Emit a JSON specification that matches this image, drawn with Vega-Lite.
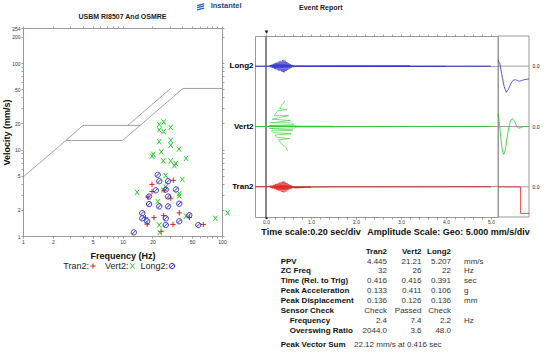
{
  "$schema": "https://vega.github.io/schema/vega-lite/v6.json",
  "padding": {"left": 2, "top": 1, "right": 0, "bottom": 0},
  "title": {"text": "Instantel", "anchor": "start", "frame": "bounds", "dx": 208, "offset": -8, "fontSize": 7.5, "fontWeight": "bold", "color": "#1d3f8f"},
  "config": {
    "font": "Liberation Sans",
    "view": {"stroke": "#999"},
    "axis": {"labelFontSize": 5, "labelColor": "#333", "tickColor": "#888", "domainColor": "#999", "tickWidth": 0.8, "domainWidth": 1, "labelOverlap": false, "labelFlush": false, "grid": false},
    "title": {"color": "#222"}
  },
  "datasets": {
    "limits": [
      {"seg": "A", "f": 1, "v": 4.8}, {"seg": "A", "f": 2.7, "v": 12.7}, {"seg": "A", "f": 10, "v": 12.7}, {"seg": "A", "f": 40.5, "v": 50.8}, {"seg": "A", "f": 100, "v": 50.8},
      {"seg": "B", "f": 2.7, "v": 12.7}, {"seg": "B", "f": 4, "v": 19}, {"seg": "B", "f": 15, "v": 19},
      {"seg": "C", "f": 11.3, "v": 19}, {"seg": "C", "f": 30.5, "v": 50.8}
    ],
    "pts": [
      {"s": "Tran2", "f": 19.8, "v": 3.95}, {"s": "Tran2", "f": 32.4, "v": 4.4}, {"s": "Tran2", "f": 19.8, "v": 3.27}, {"s": "Tran2", "f": 18.0, "v": 2.82}, {"s": "Tran2", "f": 30.5, "v": 2.74},
      {"s": "Tran2", "f": 37.2, "v": 1.85}, {"s": "Tran2", "f": 25.9, "v": 1.72}, {"s": "Tran2", "f": 20.7, "v": 1.63}, {"s": "Tran2", "f": 17.0, "v": 1.63}, {"s": "Tran2", "f": 17.7, "v": 1.37},
      {"s": "Tran2", "f": 32.2, "v": 1.36}, {"s": "Tran2", "f": 47.1, "v": 1.64}, {"s": "Tran2", "f": 64.9, "v": 1.36}, {"s": "Tran2", "f": 24.4, "v": 1.13}, {"s": "Tran2", "f": 26.2, "v": 3.37},
      {"s": "Vert2", "f": 23.4, "v": 19.5}, {"s": "Vert2", "f": 25.9, "v": 20.8}, {"s": "Vert2", "f": 23.4, "v": 16.8}, {"s": "Vert2", "f": 25.9, "v": 16.1}, {"s": "Vert2", "f": 30.5, "v": 18.0},
      {"s": "Vert2", "f": 23.4, "v": 12.3}, {"s": "Vert2", "f": 30.5, "v": 12.8}, {"s": "Vert2", "f": 30.5, "v": 11.2}, {"s": "Vert2", "f": 24.5, "v": 9.4}, {"s": "Vert2", "f": 37, "v": 10.1},
      {"s": "Vert2", "f": 20.4, "v": 8.8}, {"s": "Vert2", "f": 19.8, "v": 8.4}, {"s": "Vert2", "f": 25.7, "v": 7.4}, {"s": "Vert2", "f": 30.5, "v": 7.4}, {"s": "Vert2", "f": 34.3, "v": 6.9},
      {"s": "Vert2", "f": 33.2, "v": 6.5}, {"s": "Vert2", "f": 43.5, "v": 7.9}, {"s": "Vert2", "f": 27.2, "v": 5.0}, {"s": "Vert2", "f": 39.9, "v": 4.5}, {"s": "Vert2", "f": 27.2, "v": 3.7},
      {"s": "Vert2", "f": 25.7, "v": 3.4}, {"s": "Vert2", "f": 14.0, "v": 3.2}, {"s": "Vert2", "f": 37.2, "v": 3.1}, {"s": "Vert2", "f": 37.2, "v": 2.9}, {"s": "Vert2", "f": 22.6, "v": 2.5},
      {"s": "Vert2", "f": 43.5, "v": 1.7}, {"s": "Vert2", "f": 85.7, "v": 1.6}, {"s": "Vert2", "f": 23.4, "v": 1.34}, {"s": "Vert2", "f": 23.7, "v": 1.1}, {"s": "Vert2", "f": 114, "v": 1.85},
      {"s": "Long2", "f": 22.6, "v": 5.1}, {"s": "Long2", "f": 23.4, "v": 4.3}, {"s": "Long2", "f": 28.7, "v": 4.3}, {"s": "Long2", "f": 21.6, "v": 3.37}, {"s": "Long2", "f": 27.2, "v": 3.45},
      {"s": "Long2", "f": 34.5, "v": 3.45}, {"s": "Long2", "f": 18.5, "v": 2.86}, {"s": "Long2", "f": 28.7, "v": 2.86}, {"s": "Long2", "f": 37.2, "v": 2.36}, {"s": "Long2", "f": 18.5, "v": 2.34},
      {"s": "Long2", "f": 23.4, "v": 2.2}, {"s": "Long2", "f": 28.7, "v": 2.2}, {"s": "Long2", "f": 15.8, "v": 1.84}, {"s": "Long2", "f": 15.8, "v": 1.6}, {"s": "Long2", "f": 27.2, "v": 1.6},
      {"s": "Long2", "f": 17.7, "v": 1.48}, {"s": "Long2", "f": 37.2, "v": 1.48}, {"s": "Long2", "f": 46.9, "v": 1.74}, {"s": "Long2", "f": 27.2, "v": 1.34}, {"s": "Long2", "f": 57.8, "v": 1.34},
      {"s": "Long2", "f": 13.0, "v": 1.1}
    ],
    "leg": [
      {"s": "Tran2", "label": "Tran2:"}, {"s": "Vert2", "label": "Vert2:"}, {"s": "Long2", "label": "Long2:"}
    ],
    "wave": [
      {"ch": "Long2", "t": -0.244, "v": 0}, {"ch": "Long2", "t": 0.06, "v": 0}, {"ch": "Long2", "t": 0.08, "v": 0.5}, {"ch": "Long2", "t": 0.10, "v": -0.6}, {"ch": "Long2", "t": 0.12, "v": 1.0},
      {"ch": "Long2", "t": 0.14, "v": -1.2}, {"ch": "Long2", "t": 0.16, "v": 1.6}, {"ch": "Long2", "t": 0.18, "v": -1.9}, {"ch": "Long2", "t": 0.20, "v": 2.2}, {"ch": "Long2", "t": 0.22, "v": -2.5},
      {"ch": "Long2", "t": 0.24, "v": 2.8}, {"ch": "Long2", "t": 0.26, "v": -3.0}, {"ch": "Long2", "t": 0.28, "v": 3.4}, {"ch": "Long2", "t": 0.30, "v": -3.6}, {"ch": "Long2", "t": 0.32, "v": 4.0},
      {"ch": "Long2", "t": 0.34, "v": -4.2}, {"ch": "Long2", "t": 0.36, "v": 4.6}, {"ch": "Long2", "t": 0.38, "v": -4.9}, {"ch": "Long2", "t": 0.40, "v": 5.2}, {"ch": "Long2", "t": 0.42, "v": -4.6},
      {"ch": "Long2", "t": 0.44, "v": 4.1}, {"ch": "Long2", "t": 0.46, "v": -3.6}, {"ch": "Long2", "t": 0.48, "v": 3.0}, {"ch": "Long2", "t": 0.50, "v": -2.6}, {"ch": "Long2", "t": 0.52, "v": 2.0},
      {"ch": "Long2", "t": 0.54, "v": -1.6}, {"ch": "Long2", "t": 0.56, "v": 1.1}, {"ch": "Long2", "t": 0.58, "v": -0.9}, {"ch": "Long2", "t": 0.60, "v": 0.6}, {"ch": "Long2", "t": 0.62, "v": -0.5},
      {"ch": "Long2", "t": 0.64, "v": 0.3}, {"ch": "Long2", "t": 0.66, "v": -0.3}, {"ch": "Long2", "t": 0.70, "v": 0}, {"ch": "Long2", "t": 1.2, "v": -0.2}, {"ch": "Long2", "t": 1.8, "v": 0.2},
      {"ch": "Long2", "t": 2.5, "v": -0.2}, {"ch": "Long2", "t": 3.2, "v": 0.2}, {"ch": "Long2", "t": 4.0, "v": -0.2}, {"ch": "Long2", "t": 5.0, "v": 0},
      {"ch": "Vert2", "t": -0.244, "v": 0}, {"ch": "Vert2", "t": 0.04, "v": 0}, {"ch": "Vert2", "t": 0.06, "v": 0.8}, {"ch": "Vert2", "t": 0.08, "v": -1.5}, {"ch": "Vert2", "t": 0.10, "v": 3},
      {"ch": "Vert2", "t": 0.12, "v": -3.5}, {"ch": "Vert2", "t": 0.14, "v": 6}, {"ch": "Vert2", "t": 0.16, "v": -5}, {"ch": "Vert2", "t": 0.18, "v": 9}, {"ch": "Vert2", "t": 0.20, "v": -7},
      {"ch": "Vert2", "t": 0.22, "v": 11}, {"ch": "Vert2", "t": 0.24, "v": -9}, {"ch": "Vert2", "t": 0.26, "v": 13}, {"ch": "Vert2", "t": 0.28, "v": -11}, {"ch": "Vert2", "t": 0.30, "v": 15},
      {"ch": "Vert2", "t": 0.32, "v": -13}, {"ch": "Vert2", "t": 0.34, "v": 17}, {"ch": "Vert2", "t": 0.36, "v": -15}, {"ch": "Vert2", "t": 0.38, "v": 19}, {"ch": "Vert2", "t": 0.40, "v": -16},
      {"ch": "Vert2", "t": 0.42, "v": 21.2}, {"ch": "Vert2", "t": 0.44, "v": -17}, {"ch": "Vert2", "t": 0.46, "v": 14}, {"ch": "Vert2", "t": 0.48, "v": -20}, {"ch": "Vert2", "t": 0.50, "v": 9},
      {"ch": "Vert2", "t": 0.52, "v": -10}, {"ch": "Vert2", "t": 0.54, "v": 5}, {"ch": "Vert2", "t": 0.56, "v": -6}, {"ch": "Vert2", "t": 0.58, "v": 3}, {"ch": "Vert2", "t": 0.60, "v": -3},
      {"ch": "Vert2", "t": 0.62, "v": 1.5}, {"ch": "Vert2", "t": 0.64, "v": -1.2}, {"ch": "Vert2", "t": 0.66, "v": 0.6}, {"ch": "Vert2", "t": 0.68, "v": -0.5}, {"ch": "Vert2", "t": 0.70, "v": 0.3},
      {"ch": "Vert2", "t": 0.74, "v": 0}, {"ch": "Vert2", "t": 1.5, "v": 0.1}, {"ch": "Vert2", "t": 3.0, "v": -0.1}, {"ch": "Vert2", "t": 5.0, "v": 0},
      {"ch": "Tran2", "t": -0.244, "v": 0}, {"ch": "Tran2", "t": 0.06, "v": 0}, {"ch": "Tran2", "t": 0.08, "v": 0.4}, {"ch": "Tran2", "t": 0.10, "v": -0.5}, {"ch": "Tran2", "t": 0.12, "v": 0.8},
      {"ch": "Tran2", "t": 0.14, "v": -1.0}, {"ch": "Tran2", "t": 0.16, "v": 1.3}, {"ch": "Tran2", "t": 0.18, "v": -1.5}, {"ch": "Tran2", "t": 0.20, "v": 1.8}, {"ch": "Tran2", "t": 0.22, "v": -2.0},
      {"ch": "Tran2", "t": 0.24, "v": 2.4}, {"ch": "Tran2", "t": 0.26, "v": -2.6}, {"ch": "Tran2", "t": 0.28, "v": 3.0}, {"ch": "Tran2", "t": 0.30, "v": -3.2}, {"ch": "Tran2", "t": 0.32, "v": 3.6},
      {"ch": "Tran2", "t": 0.34, "v": -3.8}, {"ch": "Tran2", "t": 0.36, "v": 4.0}, {"ch": "Tran2", "t": 0.38, "v": -4.2}, {"ch": "Tran2", "t": 0.40, "v": 4.3}, {"ch": "Tran2", "t": 0.42, "v": -4.4},
      {"ch": "Tran2", "t": 0.44, "v": 3.8}, {"ch": "Tran2", "t": 0.46, "v": -3.5}, {"ch": "Tran2", "t": 0.48, "v": 2.8}, {"ch": "Tran2", "t": 0.50, "v": -2.4}, {"ch": "Tran2", "t": 0.52, "v": 1.8},
      {"ch": "Tran2", "t": 0.54, "v": -1.6}, {"ch": "Tran2", "t": 0.56, "v": 1.0}, {"ch": "Tran2", "t": 0.58, "v": -1.0}, {"ch": "Tran2", "t": 0.60, "v": 0.4}, {"ch": "Tran2", "t": 0.62, "v": -0.7},
      {"ch": "Tran2", "t": 0.66, "v": -0.4}, {"ch": "Tran2", "t": 0.75, "v": -0.7}, {"ch": "Tran2", "t": 0.85, "v": -0.6}, {"ch": "Tran2", "t": 1.0, "v": -0.4}, {"ch": "Tran2", "t": 1.2, "v": -0.3},
      {"ch": "Tran2", "t": 1.6, "v": -0.1}, {"ch": "Tran2", "t": 2.2, "v": 0}, {"ch": "Tran2", "t": 5.0, "v": 0}
    ],
    "cal": [
      {"ch": "Long2", "i": 0, "c": 0, "v": 5.3}, {"ch": "Long2", "i": 1, "c": 0.06, "v": 2}, {"ch": "Long2", "i": 2, "c": 0.13, "v": -8}, {"ch": "Long2", "i": 3, "c": 0.2, "v": -17},
      {"ch": "Long2", "i": 4, "c": 0.27, "v": -21.7}, {"ch": "Long2", "i": 5, "c": 0.34, "v": -19}, {"ch": "Long2", "i": 6, "c": 0.42, "v": -14}, {"ch": "Long2", "i": 7, "c": 0.5, "v": -11.5},
      {"ch": "Long2", "i": 8, "c": 0.56, "v": -11.2}, {"ch": "Long2", "i": 9, "c": 0.63, "v": -12}, {"ch": "Long2", "i": 10, "c": 0.7, "v": -12.5}, {"ch": "Long2", "i": 11, "c": 0.8, "v": -11.5},
      {"ch": "Long2", "i": 12, "c": 0.9, "v": -11}, {"ch": "Long2", "i": 13, "c": 1, "v": -10.5},
      {"ch": "Vert2", "i": 0, "c": 0, "v": 10.3}, {"ch": "Vert2", "i": 1, "c": 0.05, "v": 2}, {"ch": "Vert2", "i": 2, "c": 0.1, "v": -12}, {"ch": "Vert2", "i": 3, "c": 0.15, "v": -21},
      {"ch": "Vert2", "i": 4, "c": 0.19, "v": -23}, {"ch": "Vert2", "i": 5, "c": 0.24, "v": -19}, {"ch": "Vert2", "i": 6, "c": 0.3, "v": -8}, {"ch": "Vert2", "i": 7, "c": 0.37, "v": 2},
      {"ch": "Vert2", "i": 8, "c": 0.43, "v": 6}, {"ch": "Vert2", "i": 9, "c": 0.48, "v": 6.5}, {"ch": "Vert2", "i": 10, "c": 0.54, "v": 4}, {"ch": "Vert2", "i": 11, "c": 0.6, "v": 0.5},
      {"ch": "Vert2", "i": 12, "c": 0.66, "v": -1.4}, {"ch": "Vert2", "i": 13, "c": 0.74, "v": -1}, {"ch": "Vert2", "i": 14, "c": 0.82, "v": 0}, {"ch": "Vert2", "i": 15, "c": 1, "v": 0},
      {"ch": "Tran2", "i": 0, "c": 0, "v": 0}, {"ch": "Tran2", "i": 1, "c": 0.73, "v": 0}, {"ch": "Tran2", "i": 2, "c": 0.73, "v": -22}, {"ch": "Tran2", "i": 3, "c": 1, "v": -22}
    ],
    "tbl": [
      {"r": -2, "c": 0, "t": "Time scale:0.20 sec/div"}, {"r": -2, "c": 4, "t": "Amplitude Scale: Geo: 5.000 mm/s/div"},
      {"r": 0, "c": 5, "t": "Tran2"}, {"r": 0, "c": 6, "t": "Vert2"}, {"r": 0, "c": 7, "t": "Long2"},
      {"r": 1, "c": 1, "t": "PPV"}, {"r": 1, "c": 5, "t": "4.445"}, {"r": 1, "c": 6, "t": "21.21"}, {"r": 1, "c": 7, "t": "5.207"}, {"r": 1, "c": 8, "t": "mm/s"},
      {"r": 2, "c": 1, "t": "ZC Freq"}, {"r": 2, "c": 5, "t": "32"}, {"r": 2, "c": 6, "t": "26"}, {"r": 2, "c": 7, "t": "22"}, {"r": 2, "c": 8, "t": "Hz"},
      {"r": 3, "c": 1, "t": "Time (Rel. to Trig)"}, {"r": 3, "c": 5, "t": "0.416"}, {"r": 3, "c": 6, "t": "0.416"}, {"r": 3, "c": 7, "t": "0.391"}, {"r": 3, "c": 8, "t": "sec"},
      {"r": 4, "c": 1, "t": "Peak Acceleration"}, {"r": 4, "c": 5, "t": "0.133"}, {"r": 4, "c": 6, "t": "0.411"}, {"r": 4, "c": 7, "t": "0.106"}, {"r": 4, "c": 8, "t": "g"},
      {"r": 5, "c": 1, "t": "Peak Displacement"}, {"r": 5, "c": 5, "t": "0.136"}, {"r": 5, "c": 6, "t": "0.126"}, {"r": 5, "c": 7, "t": "0.136"}, {"r": 5, "c": 8, "t": "mm"},
      {"r": 6, "c": 1, "t": "Sensor Check"}, {"r": 6, "c": 5, "t": "Check"}, {"r": 6, "c": 6, "t": "Passed"}, {"r": 6, "c": 7, "t": "Check"},
      {"r": 7, "c": 2, "t": "Frequency"}, {"r": 7, "c": 5, "t": "2.4"}, {"r": 7, "c": 6, "t": "7.4"}, {"r": 7, "c": 7, "t": "2.2"}, {"r": 7, "c": 8, "t": "Hz"},
      {"r": 8, "c": 2, "t": "Overswing Ratio"}, {"r": 8, "c": 5, "t": "2044.0"}, {"r": 8, "c": 6, "t": "3.6"}, {"r": 8, "c": 7, "t": "48.0"},
      {"r": 9.5, "c": 1, "t": "Peak Vector Sum"}, {"r": 9.5, "c": 3, "t": "22.12 mm/s at 0.416 sec"}
    ]
  },
  "spacing": -4,
  "hconcat": [
    {
      "spacing": 1,
      "vconcat": [
        {
          "width": 199,
          "height": 200,
          "view": {"stroke": null},
          "layer": [
            {
              "data": {"name": "limits"},
              "mark": {"type": "line", "color": "#8a8a8a", "strokeWidth": 0.8},
              "encoding": {
                "x": {"field": "f", "type": "quantitative", "scale": {"type": "log", "domain": [1, 100], "nice": false},
                  "axis": {"orient": "bottom", "values": [1,2,3,4,5,6,7,8,9,10,20,30,40,50,60,70,80,90,100], "labelExpr": "indexof([1,2,5,10,20,50,100], datum.value) >= 0 ? '' + datum.value : ''", "title": "Frequency (Hz)", "titleFontSize": 9, "titleFontWeight": "bold", "titleColor": "#111", "titlePadding": 7, "tickSize": 2, "labelPadding": 1}},
                "y": {"field": "v", "type": "quantitative", "scale": {"type": "log", "domain": [1, 254], "nice": false, "range": [200, -8]},
                  "axis": {"orient": "left", "values": [1,2,3,4,5,6,7,8,9,10,20,30,40,50,60,70,80,90,100,200,254], "labelExpr": "indexof([1,2,5,10,20,50,100,200,254], datum.value) >= 0 ? '' + datum.value : ''", "title": "Velocity (mm/s)", "titleFontSize": 9, "titleFontWeight": "bold", "titleColor": "#111", "titlePadding": 0, "tickSize": 2, "labelPadding": 1}},
                "detail": {"field": "seg", "type": "nominal"}
              }
            },
            {
              "data": {"name": "pts"},
              "mark": {"type": "point", "filled": false, "size": 28, "strokeWidth": 1, "opacity": 1},
              "encoding": {
                "x": {"field": "f", "type": "quantitative", "axis": {"orient": "top", "offset": 8, "values": [1,2,3,4,5,6,7,8,9,10,20,30,40,50,60,70,80,90,100], "labels": false, "title": null, "tickSize": 2}},
                "y": {"field": "v", "type": "quantitative", "axis": {"orient": "right", "values": [1,2,3,4,5,6,7,8,9,10,20,30,40,50,60,70,80,90,100,200,254], "labels": false, "title": null, "tickSize": 2}},
                "color": {"field": "s", "type": "nominal", "scale": {"domain": ["Tran2", "Vert2", "Long2"], "range": ["#e02020", "#22cc22", "#3030d0"]}, "legend": null},
                "shape": {"field": "s", "type": "nominal", "scale": {"domain": ["Tran2", "Vert2", "Long2"], "range": ["M-1,0L1,0M0,-1L0,1", "M-0.8,-1L0.8,1M-0.8,1L0.8,-1", "M-1,0A1,1,0,1,1,1,0A1,1,0,1,1,-1,0M-0.75,0.75L0.75,-0.75"]}, "legend": null}
              }
            },
            {
              "data": {"values": [{"t": "USBM RI8507 And OSMRE"}]},
              "mark": {"type": "text", "align": "center", "baseline": "middle", "fontWeight": "bold", "fontSize": 7, "color": "#222"},
              "encoding": {
                "x": {"datum": 10, "type": "quantitative", "axis": null},
                "y": {"datum": 340, "type": "quantitative", "axis": null},
                "text": {"field": "t"}
              }
            },
            {
              "data": {"values": [{"t": "logo"}]},
              "mark": {"type": "point", "shape": "M-1,-0.5L1,-1M-1,0.1L1,-0.4M-1,0.7L1,0.2", "size": 49, "filled": false, "strokeWidth": 1.3, "color": "#1f5fbf", "opacity": 1},
              "encoding": {
                "x": {"datum": 61, "type": "quantitative", "axis": null},
                "y": {"datum": 440, "type": "quantitative", "axis": null}
              }
            }
          ],
          "resolve": {"axis": {"x": "independent", "y": "independent"}}
        },
        {
          "width": 199,
          "height": 10,
          "view": {"stroke": null},
          "data": {"name": "leg"},
          "encoding": {
            "x": {"field": "s", "type": "nominal", "sort": null, "scale": {"type": "point", "domain": ["Tran2", "Vert2", "Long2"], "range": [70, 149], "padding": 0}, "axis": null}
          },
          "layer": [
            {
              "mark": {"type": "text", "align": "right", "baseline": "middle", "dx": -4, "fontSize": 9, "color": "#222"},
              "encoding": {"text": {"field": "label"}}
            },
            {
              "mark": {"type": "point", "filled": false, "size": 28, "strokeWidth": 1, "opacity": 1},
              "encoding": {
                "color": {"field": "s", "type": "nominal", "scale": {"domain": ["Tran2", "Vert2", "Long2"], "range": ["#e02020", "#22cc22", "#3030d0"]}, "legend": null},
                "shape": {"field": "s", "type": "nominal", "scale": {"domain": ["Tran2", "Vert2", "Long2"], "range": ["M-1,0L1,0M0,-1L0,1", "M-0.8,-1L0.8,1M-0.8,1L0.8,-1", "M-1,0A1,1,0,1,1,1,0A1,1,0,1,1,-1,0M-0.75,0.75L0.75,-0.75"]}, "legend": null}
              }
            }
          ]
        }
      ]
    },
    {
      "width": 243,
      "height": 181,
      "title": {"text": "Event Report", "anchor": "start", "frame": "group", "dx": 44, "fontSize": 7, "fontWeight": "bold", "offset": 17},
      "data": {"name": "wave"},
      "layer": [
        {
          "mark": {"type": "rule", "color": "#888", "strokeWidth": 0.8},
          "encoding": {
            "x": {"datum": 0, "type": "quantitative", "scale": {"domain": [-0.244, 5.156], "nice": false, "zero": false}, "axis": {"orient": "top", "values": [0,0.2,0.4,0.6,0.8,1,1.2,1.4,1.6,1.8,2,2.2,2.4,2.6,2.8,3,3.2,3.4,3.6,3.8,4,4.2,4.4,4.6,4.8,5], "labelExpr": "datum.value === 0 ? '▼' : ''", "labelFontSize": 6, "labelColor": "#111", "labelPadding": 0, "tickSize": 2, "domain": false, "title": null}}
          }
        },
        {
          "mark": {"type": "line", "strokeWidth": 0.6},
          "encoding": {
            "x": {"field": "t", "type": "quantitative", "scale": {"domain": [-0.244, 5.156], "nice": false, "zero": false},
              "axis": {"orient": "bottom", "values": [0,0.2,0.4,0.6,0.8,1,1.2,1.4,1.6,1.8,2,2.2,2.4,2.6,2.8,3,3.2,3.4,3.6,3.8,4,4.2,4.4,4.6,4.8,5], "labelExpr": "datum.value === 0 ? ['▲', '0.0'] : (datum.value % 1 === 0 ? ['', format(datum.value, '.1f')] : '')", "labelBaseline": "top", "labelLineHeight": 5.5, "tickSize": 2, "labelPadding": -5, "domain": false, "title": null}},
            "y": {"field": "ch", "type": "nominal", "scale": {"type": "band", "domain": ["Long2", "Vert2", "Tran2"], "paddingInner": 0, "paddingOuter": 0},
              "axis": {"title": null, "labelFontSize": 8, "labelFontWeight": "bold", "labelColor": "#000", "ticks": false, "domain": false, "labelPadding": 2, "grid": true, "gridColor": "#888", "gridWidth": 0.8}},
            "yOffset": {"field": "v", "type": "quantitative", "scale": {"domain": [-25, 25], "reverse": true}},
            "color": {"field": "ch", "type": "nominal", "scale": {"domain": ["Long2", "Vert2", "Tran2"], "range": ["#7878f0", "#78e078", "#f07878"]}, "legend": null}
          }
        },
        {
          "data": {"name": "tbl"},
          "encoding": {
            "x": {"field": "c", "type": "quantitative", "scale": {"domain": [0,1,2,3,4,5,6,7,8], "range": [6.3,25.7,34.7,99,112.3,132,166.5,196,209]}, "axis": null},
            "y": {"field": "r", "type": "quantitative", "scale": {"domain": [-2, 9.5], "range": [196, 309.3]}, "axis": null},
            "text": {"field": "t"}
          },
          "layer": [
            {
              "transform": [{"filter": "datum.c <= 2 || datum.c === 4"}],
              "mark": {"type": "text", "align": "left", "baseline": "middle", "fontWeight": "bold", "color": "#111"},
              "encoding": {"size": {"condition": {"test": "datum.r < 0", "value": 9}, "value": 8}}
            },
            {
              "transform": [{"filter": "datum.c >= 5 && datum.c <= 7 && datum.r === 0"}],
              "mark": {"type": "text", "align": "right", "baseline": "middle", "fontWeight": "bold", "fontSize": 8, "color": "#111"}
            },
            {
              "transform": [{"filter": "datum.c >= 5 && datum.c <= 7 && datum.r !== 0"}],
              "mark": {"type": "text", "align": "right", "baseline": "middle", "fontSize": 8, "color": "#333"}
            },
            {
              "transform": [{"filter": "datum.c === 3 || datum.c === 8"}],
              "mark": {"type": "text", "align": "left", "baseline": "middle", "fontSize": 8, "color": "#333"}
            }
          ]
        },
        {
          "layer": [
            {
              "data": {"values": [{"k": 1}]},
              "mark": {"type": "rect", "fillOpacity": 0, "stroke": "#999", "strokeWidth": 1},
              "encoding": {
                "x": {"datum": 0, "type": "quantitative", "scale": {"domain": [0, 1], "range": [243, 274], "nice": false, "zero": false}, "axis": null},
                "x2": {"datum": 1}
              }
            },
            {
              "data": {"values": [{"ch": "Long2"}, {"ch": "Vert2"}, {"ch": "Tran2"}]},
              "mark": {"type": "rule", "color": "#888", "strokeWidth": 0.8},
              "encoding": {
                "x": {"datum": 0, "type": "quantitative", "axis": null},
                "x2": {"datum": 1},
                "y": {"field": "ch", "type": "nominal", "scale": {"type": "band", "domain": ["Long2", "Vert2", "Tran2"], "paddingInner": 0, "paddingOuter": 0},
                  "axis": {"orient": "right", "offset": 31, "title": null, "labelExpr": "'0.0'", "labelFontSize": 5, "labelColor": "#111", "ticks": false, "domain": false, "labelPadding": 3, "grid": false}}
              }
            },
            {
              "data": {"name": "cal"},
              "mark": {"type": "line", "strokeWidth": 0.8},
              "encoding": {
                "x": {"field": "c", "type": "quantitative", "axis": null},
                "y": {"field": "ch", "type": "nominal", "axis": {"orient": "right", "offset": 31, "title": null, "labelExpr": "'0.0'", "labelFontSize": 5, "labelColor": "#111", "ticks": false, "domain": false, "labelPadding": 3, "grid": false}},
                "yOffset": {"field": "v", "type": "quantitative", "scale": {"domain": [-25, 25], "reverse": true}},
                "color": {"field": "ch", "type": "nominal", "scale": {"domain": ["Long2", "Vert2", "Tran2"], "range": ["#7878f0", "#78e078", "#f07878"]}, "legend": null},
                "order": {"field": "i", "type": "quantitative"}
              }
            }
          ]
        }
      ],
      "resolve": {"scale": {"x": "independent", "y": "independent"}, "axis": {"x": "independent", "y": "independent"}}
    }
  ]
}
